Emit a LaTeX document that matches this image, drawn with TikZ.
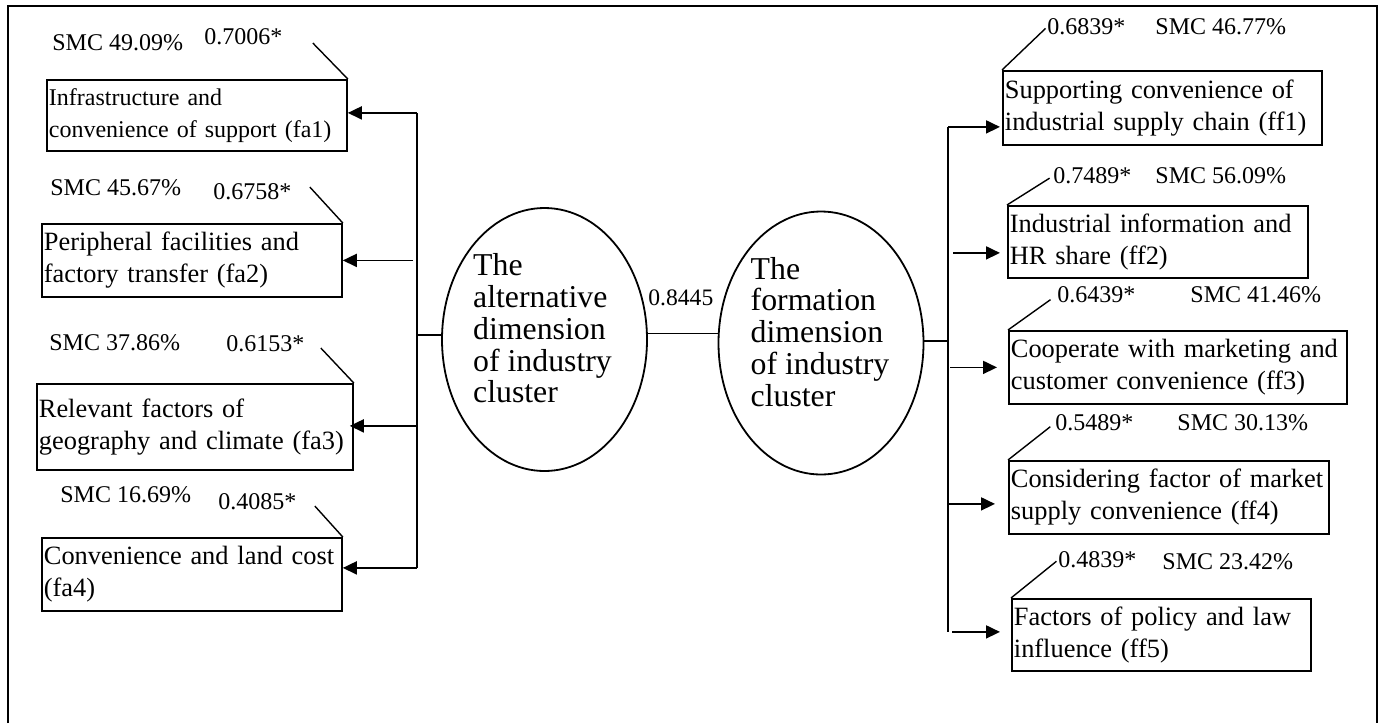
\documentclass[tikz,border=0pt]{standalone}
\usepackage{fontspec}
\setmainfont{Liberation Serif}
\usetikzlibrary{arrows.meta,shapes.geometric}
\hyphenpenalty=10000

\begin{document}
\begin{tikzpicture}[x=0.5pt,y=-0.5pt]
      \tikzset{
        factor/.style = {draw, line width=0.9pt, anchor=north west, inner xsep=1pt,
                         inner ysep=0pt, align=left, font=\fontsize{13.2}{16}\selectfont},
        dimen/.style  = {draw, ellipse, line width=0.9pt, inner sep=0pt,
                         minimum width=102.5pt, minimum height=131.5pt},
        dimtext/.style = {inner sep=0pt, align=left, font=\fontsize{15.9}{15.9}\selectfont},
        load/.style   = {anchor=west, inner sep=0pt, font=\fontsize{12}{14}\selectfont},
        arr/.style    = {line width=0.9pt, -{Triangle[length=7pt,width=6.5pt]}},
        trunk/.style  = {line width=0.9pt},
        tick/.style   = {line width=0.7pt}
      }
      \useasboundingbox (0,0) rectangle (1380,723);
      % Frame
      \draw[line width=0.9pt] (8,723) -- (8,6) -- (1377,6) -- (1377,723);

      % Dimensions
      \node[dimen] (alt)  at (544.5,339.5) {};
      \node[dimtext] (altT) at ([xshift=-1pt,yshift=5.5pt]alt.center)
        {The\\alternative\\dimension\\of industry\\cluster};
      \node[dimen] (form) at (821,343) {};
      \node[dimtext] (formT) at ([xshift=-0.5pt,yshift=5.6pt]form.center)
        {The\\formation\\dimension\\of industry\\cluster};
      \node[load, font=\fontsize{11.8}{14}\selectfont] (corr) at (648,298) {0.8445};
      \draw[line width=0.5pt] ([yshift=3pt]alt.east) -- ([yshift=3pt]alt.east -| form.west);

      % Alternative factors
      \node[factor, font=\fontsize{12}{16}\selectfont, text width=148pt, minimum height=35.5pt]
        (fa1) at (46,79) {Infrastructure and\\convenience of support (fa1)};
      \node[factor, text width=148pt, minimum height=36.5pt]
        (fa2) at (41,223) {Peripheral facilities and\\factory transfer (fa2)};
      \node[factor, text width=156pt, minimum height=43pt]
        (fa3) at (36,383) {Relevant factors of\\geography and climate (fa3)};
      \node[factor, text width=148pt, minimum height=36.5pt]
        (fa4) at (41,537) {Convenience and land cost\\(fa4)};

      % Formation factors
      \node[factor, text width=157.5pt, minimum height=37pt]
        (ff1) at (1002,70) {Supporting convenience of\\industrial supply chain (ff1)};
      \node[factor, text width=148pt, minimum height=36pt]
        (ff2) at (1007,205) {Industrial information and\\HR share (ff2)};
      \node[factor, text width=167pt, minimum height=36.5pt]
        (ff3) at (1008,330) {Cooperate with marketing and\\customer convenience (ff3)};
      \node[factor, text width=158pt, minimum height=36.5pt]
        (ff4) at (1008,460) {Considering factor of market\\supply convenience (ff4)};
      \node[factor, text width=147.5pt, minimum height=36pt]
        (ff5) at (1011,598) {Factors of policy and law\\influence (ff5)};

      % Loadings
      \node[load] (s1) at (52,43)  {SMC 49.09\%};
      \node[load] (l1) at (204,37) {0.7006*};
      \node[load] (s2) at (50,188) {SMC 45.67\%};
      \node[load] (l2) at (213,192) {0.6758*};
      \node[load] (s3) at (49,343) {SMC 37.86\%};
      \node[load] (l3) at (226,344) {0.6153*};
      \node[load] (s4) at (60,495) {SMC 16.69\%};
      \node[load] (l4) at (218,502) {0.4085*};
      \node[load] (l5) at (1047,27)  {0.6839*};
      \node[load] (s5) at (1155,27)  {SMC 46.77\%};
      \node[load] (l6) at (1053,176) {0.7489*};
      \node[load] (s6) at (1155,176) {SMC 56.09\%};
      \node[load] (l7) at (1057,295) {0.6439*};
      \node[load] (s7) at (1190,295) {SMC 41.46\%};
      \node[load] (l8) at (1055,423) {0.5489*};
      \node[load] (s8) at (1177,423) {SMC 30.13\%};
      \node[load] (l9) at (1058,560) {0.4839*};
      \node[load] (s9) at (1162,562) {SMC 23.42\%};

      % Loading ticks
      \draw[tick] (fa1.north east) -- ++(-35,-36);
      \draw[tick] (fa2.north east) -- ++(-33,-36);
      \draw[tick] (fa3.north east) -- ++(-33,-35);
      \draw[tick] (fa4.north east) -- ++(-28,-31);
      \draw[tick, shorten >=1pt] (ff1.north west) -- (l5.west);
      \draw[tick, shorten >=2pt] (ff2.north west) -- (l6.west);
      \draw[tick, shorten >=4pt] (ff3.north west) -- (l7.west);
      \draw[tick, shorten >=3pt] (ff4.north west) -- (l8.west);
      \draw[tick, shorten >=1pt] (ff5.north west) -- (l9.west);

      % Trunks
      \coordinate (tl) at (417,335);
      \coordinate (tr) at (948,341);
      \coordinate (a1) at ([yshift=1.25pt]fa1.east);
      \coordinate (a2) at (fa2.east);
      \coordinate (a3) at ([yshift=0.5pt]fa3.east);
      \coordinate (a4) at ([yshift=3.25pt]fa4.east);
      \coordinate (b1) at ([yshift=-9.5pt]ff1.west);
      \coordinate (b2) at ([yshift=-5.5pt]ff2.west);
      \coordinate (b3) at (ff3.west);
      \coordinate (b4) at ([yshift=-3.25pt]ff4.west);
      \coordinate (b5) at ([yshift=1.5pt]ff5.west);
      \draw[trunk] (a1 -| tl) -- (a4 -| tl);
      \draw[trunk] (tl) -- (tl -| alt.west);
      \draw[trunk] (b1 -| tr) -- (b5 -| tr);
      \draw[trunk] (tr -| form.east) -- (tr);

      % Arrows
      \draw[arr] (a1 -| tl) -- (a1);
      \draw[arr, shorten <=2pt] (a2 -| tl) -- (a2);
      \draw[arr, shorten >=-2pt] (a3 -| tl) -- (a3);
      \draw[arr] (a4 -| tl) -- (a4);
      \draw[arr, shorten >=1pt] (b1 -| tr) -- (b1);
      \draw[arr, shorten <=2.5pt, shorten >=3.5pt] (b2 -| tr) -- (b2);
      \draw[arr, shorten <=1pt, shorten >=5.5pt] (b3 -| tr) -- (b3);
      \draw[arr, shorten >=6.5pt] (b4 -| tr) -- (b4);
      \draw[arr, shorten <=2pt, shorten >=5.5pt] (b5 -| tr) -- (b5);
\end{tikzpicture}
\end{document}
